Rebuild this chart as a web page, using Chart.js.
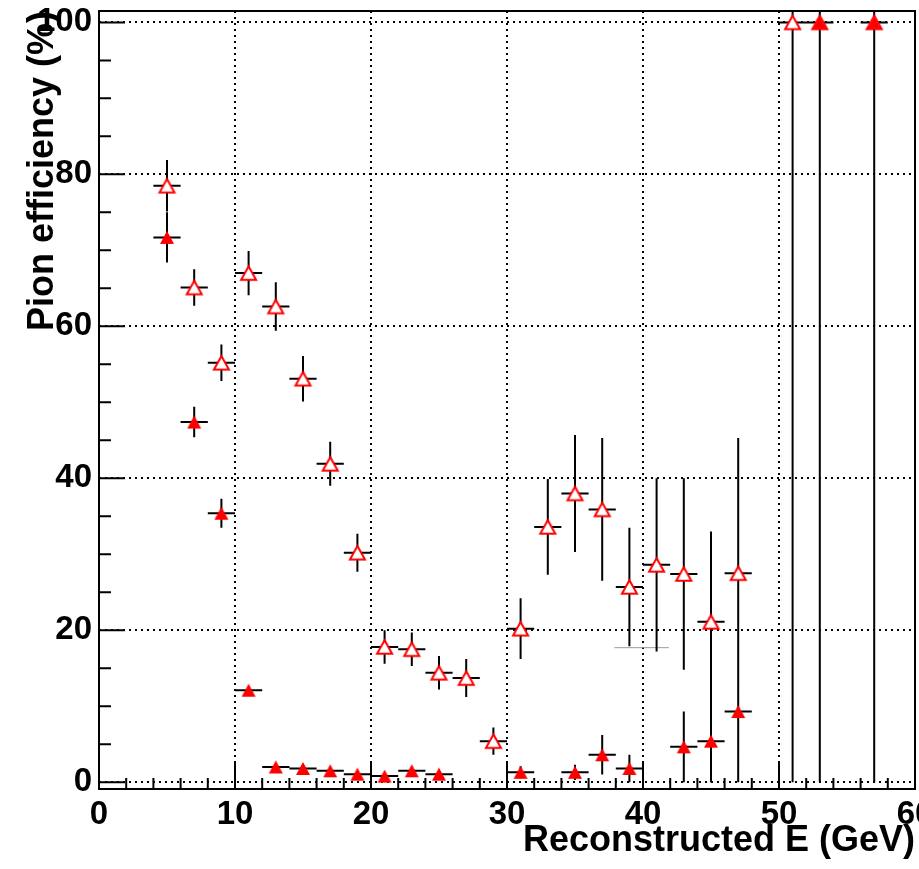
<!DOCTYPE html>
<html>
<head>
<meta charset="utf-8">
<title>Pion efficiency</title>
<script src="https://cdn.jsdelivr.net/npm/chart.js@4/dist/chart.umd.min.js"></script>
<style>
    html, body { margin: 0; padding: 0; background: #fff; }
    canvas { display: block; }
</style>
</head>
<body>
<canvas id="pionEfficiencyChart" width="919" height="869"></canvas>
<script>
    // Open triangles: bin centre (GeV), efficiency (%), error
    var openX   = [5, 7, 9, 11, 13, 15, 17, 19, 21, 23, 25, 27, 29, 31, 33, 35, 37, 39, 41, 43, 45, 47, 51, 53, 57];
    var openY   = [78.5, 65.1, 55.2, 67.0, 62.6, 53.1, 41.9, 30.2, 17.8, 17.5, 14.4, 13.7, 5.4, 20.2, 33.6, 38.0, 35.9, 25.7, 28.6, 27.4, 21.1, 27.5, 100, 100, 100];
    var openErr = [3.4, 2.4, 2.4, 2.9, 3.2, 3.0, 2.9, 2.5, 2.2, 2.2, 2.2, 2.5, 1.8, 4.0, 6.3, 7.7, 9.4, 7.8, 11.4, 12.6, 11.9, 17.8, 100, 100, 100];

    // Filled triangles
    var filledX   = [5, 7, 9, 11, 13, 15, 17, 19, 21, 23, 25, 31, 35, 37, 39, 43, 45, 47, 53, 57];
    var filledY   = [71.7, 47.4, 35.4, 12.1, 2.0, 1.8, 1.5, 1.05, 0.8, 1.5, 1.05, 1.3, 1.3, 3.6, 1.8, 4.65, 5.4, 9.3, 100, 100];
    var filledErr = [3.3, 2.0, 1.9, 0.4, 0.4, 0.4, 0.4, 0.4, 0.3, 0.4, 0.4, 0.8, 1.0, 2.6, 1.8, 4.65, 5.4, 9.3, 100, 100];

    // half bin width (bins are 2 GeV wide)
    var binHalfWidth = 1;

    // stray grey segment under bins 39-41
    var greyLineX = [37.9, 41.9];
    var greyLineY = [17.7, 17.7];

    // axes
    var xTickValues = [0, 10, 20, 30, 40, 50, 60];
    var yTickValues = [0, 20, 40, 60, 80, 100];
    var xMinorStep = 2;
    var yMinorStep = 5;

    function toPoints(xs, ys) {
        return xs.map(function (x, i) { return {x: x, y: ys[i]}; });
    }

    // error bars as one broken line: horizontal bin width + vertical error
    function errorSegments(xs, ys, errs) {
        var pts = [];
        xs.forEach(function (x, i) {
            pts.push({x: x - binHalfWidth, y: ys[i]}, {x: x + binHalfWidth, y: ys[i]}, {x: x, y: null});
            pts.push({x: x, y: ys[i] - errs[i]}, {x: x, y: ys[i] + errs[i]}, {x: x, y: null});
        });
        return pts;
    }

    function makeTriangle(w, h, filled) {
        var c = document.createElement('canvas');
        c.width = Math.ceil(w) + 6;
        c.height = Math.ceil(h) + 6;
        var ctx = c.getContext('2d');
        var cx = c.width / 2, cy = c.height / 2;
        ctx.beginPath();
        ctx.moveTo(cx, cy - h / 2);
        ctx.lineTo(cx + w / 2, cy + h / 2);
        ctx.lineTo(cx - w / 2, cy + h / 2);
        ctx.closePath();
        if (filled) {
            ctx.fillStyle = '#ff0000';
            ctx.fill();
        } else {
            ctx.fillStyle = '#ffffff';
            ctx.fill();
            ctx.lineWidth = 2;
            ctx.strokeStyle = '#ff0000';
            ctx.stroke();
        }
        return c;
    }

    // frame and inward ROOT-style ticks
    var frameTicks = {
        id: 'frameTicks',
        beforeDatasetsDraw: function (chart) {
            var ctx = chart.ctx;
            var area = chart.chartArea;
            var xs = chart.scales.x, ys = chart.scales.y;
            ctx.save();
            ctx.strokeStyle = '#000';
            ctx.lineWidth = 2;
            ctx.beginPath();
            for (var v = xs.min; v <= xs.max; v += xMinorStep) {
                var px = xs.getPixelForValue(v);
                var len = (v % 10 === 0) ? 26 : 11;
                ctx.moveTo(px, area.bottom);
                ctx.lineTo(px, area.bottom - len);
            }
            for (var w = 0; w <= 100; w += yMinorStep) {
                var py = ys.getPixelForValue(w);
                var len2 = (w % 20 === 0) ? 26 : 12;
                ctx.moveTo(area.left, py);
                ctx.lineTo(area.left + len2, py);
            }
            ctx.stroke();
            ctx.strokeRect(area.left, area.top, area.right - area.left, area.bottom - area.top);
            ctx.restore();
        }
    };

    var tickFont = {family: "'Liberation Sans', Arial, sans-serif", size: 33, weight: 'bold'};
    var titleFont = {family: "'Liberation Sans', Arial, sans-serif", size: 36, weight: 'bold'};
    var dotted = {display: false, dash: [2, 4]};

    new Chart(document.getElementById('pionEfficiencyChart').getContext('2d'), {
        type: 'scatter',
        data: {
            datasets: [
                {
                    label: 'grey',
                    type: 'line',
                    data: toPoints(greyLineX, greyLineY),
                    borderColor: '#9a9a9a',
                    borderWidth: 1,
                    pointRadius: 0,
                    order: 4
                },
                {
                    label: 'errors',
                    type: 'line',
                    data: errorSegments(openX, openY, openErr).concat(errorSegments(filledX, filledY, filledErr)),
                    borderColor: '#000',
                    borderWidth: 2,
                    pointRadius: 0,
                    spanGaps: false,
                    order: 3
                },
                {
                    label: 'open',
                    data: toPoints(openX, openY),
                    pointStyle: makeTriangle(15, 13.5, false),
                    pointRadius: 9,
                    order: 2
                },
                {
                    label: 'filled',
                    data: toPoints(filledX, filledY),
                    pointStyle: makeTriangle(14, 13, true),
                    pointRadius: 8,
                    order: 1
                }
            ]
        },
        options: {
            responsive: false,
            animation: false,
            devicePixelRatio: 1,
            layout: {autoPadding: false, padding: {top: 11, right: 4, left: 0, bottom: 0}},
            plugins: {
                legend: {display: false},
                tooltip: {enabled: false}
            },
            scales: {
                x: {
                    type: 'linear',
                    min: 0,
                    max: 60,
                    afterBuildTicks: function (axis) {
                        axis.ticks = xTickValues.map(function (v) { return {value: v}; });
                    },
                    afterFit: function (axis) {
                        axis.height = 80;
                        axis.paddingLeft = 0;
                        axis.paddingRight = 0;
                    },
                    grid: {color: '#000', lineWidth: 2, drawTicks: false},
                    border: dotted,
                    ticks: {color: '#000', font: tickFont, padding: 6, maxRotation: 0},
                    title: {
                        display: true,
                        text: 'Reconstructed E (GeV)',
                        align: 'end',
                        color: '#000',
                        font: titleFont,
                        padding: {top: 0, bottom: 6}
                    }
                },
                y: {
                    type: 'linear',
                    min: -0.9,
                    max: 101.5,
                    afterBuildTicks: function (axis) {
                        axis.ticks = yTickValues.map(function (v) { return {value: v}; });
                    },
                    afterFit: function (axis) {
                        axis.width = 99;
                        axis.paddingTop = 0;
                        axis.paddingBottom = 0;
                    },
                    grid: {color: '#000', lineWidth: 2, drawTicks: false},
                    border: dotted,
                    ticks: {color: '#000', font: tickFont, padding: 7},
                    title: {
                        display: true,
                        text: 'Pion efficiency (%)',
                        align: 'end',
                        color: '#000',
                        font: titleFont,
                        padding: {top: 21, bottom: 0}
                    }
                }
            }
        },
        plugins: [frameTicks]
    });
</script>
</body>
</html>
